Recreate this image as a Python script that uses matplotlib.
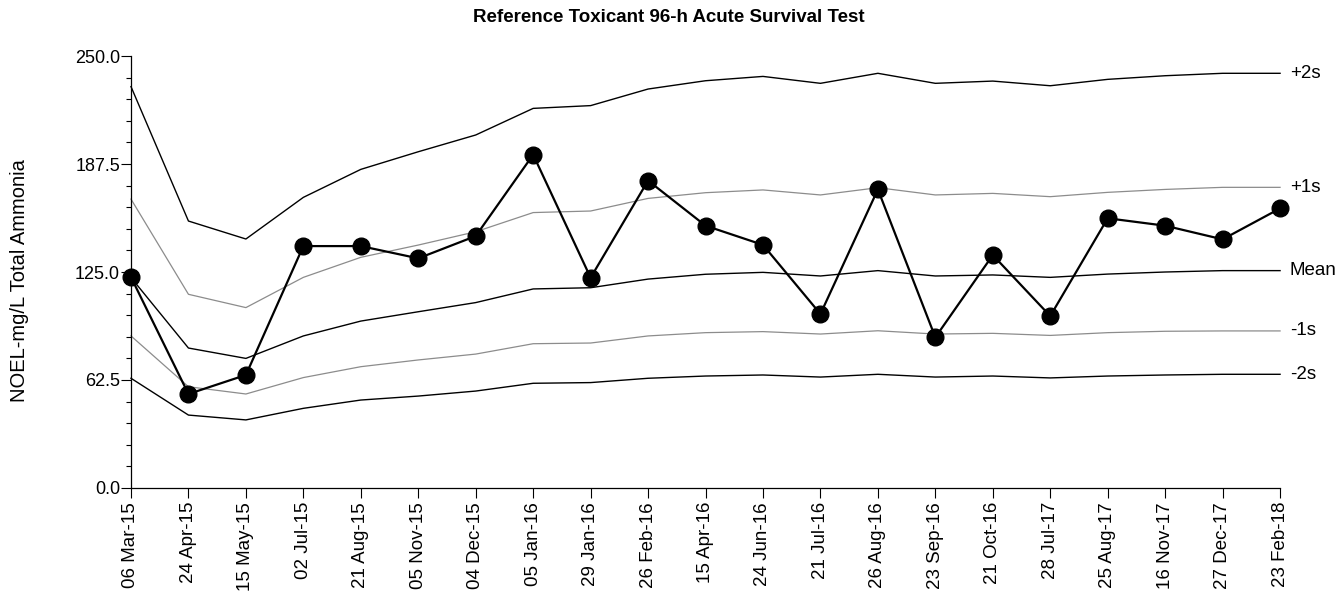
import numpy as np
import matplotlib
matplotlib.use("Agg")
import matplotlib.pyplot as plt
from matplotlib.ticker import MultipleLocator, FormatStrFormatter

plt.rcParams["font.family"] = ["Liberation Sans", "DejaVu Sans"]

dates = ["06 Mar-15", "24 Apr-15", "15 May-15", "02 Jul-15", "21 Aug-15",
         "05 Nov-15", "04 Dec-15", "05 Jan-16", "29 Jan-16", "26 Feb-16",
         "15 Apr-16", "24 Jun-16", "21 Jul-16", "26 Aug-16", "23 Sep-16",
         "21 Oct-16", "28 Jul-17", "25 Aug-17", "16 Nov-17", "27 Dec-17",
         "23 Feb-18"]

noel = [122.0, 54.4, 65.4, 140.0, 140.0, 132.9, 145.8, 192.9, 121.7, 177.9,
        151.8, 140.7, 100.7, 172.8, 87.2, 134.8, 99.5, 156.1, 151.8, 143.9,
        161.8]

plus2s = [232.3, 154.5, 144.1, 168.2, 184.4, 194.6, 204.3, 219.7, 221.3, 230.9,
          235.7, 238.2, 234.2, 240.0, 234.2, 235.5, 232.8, 236.5, 238.6, 240.0,
          240.0]
plus1s = [167.2, 112.1, 104.4, 121.9, 133.5, 140.6, 148.3, 159.4, 160.3, 167.6,
          170.9, 172.5, 169.6, 173.8, 169.6, 170.5, 168.6, 171.1, 172.8, 174.0,
          174.0]
mean = [121.8, 81.0, 75.0, 88.0, 96.6, 102.0, 107.3, 115.2, 115.9, 120.9,
        123.7, 124.8, 122.7, 125.8, 122.7, 123.3, 121.9, 123.8, 125.0, 125.8,
        125.8]
minus1s = [88.0, 58.6, 54.4, 63.9, 70.2, 74.1, 77.5, 83.5, 83.9, 88.0,
           89.9, 90.5, 89.1, 91.0, 89.1, 89.5, 88.3, 89.9, 90.7, 90.9,
           90.9]
minus2s = [63.5, 42.2, 39.4, 46.1, 50.9, 53.2, 56.1, 60.6, 61.0, 63.5,
           64.8, 65.4, 64.2, 65.8, 64.2, 64.8, 63.7, 64.8, 65.4, 65.8,
           65.8]

x = np.arange(len(dates))

fig = plt.figure(figsize=(13.38, 5.91), dpi=100)
ax = fig.add_axes([0.0979, 0.1743, 0.8588, 0.7309])

limits = [(plus2s, "+2s", "black", 1.0),
          (plus1s, "+1s", "#8c8c8c", 0.9),
          (mean, "Mean", "black", 1.0),
          (minus1s, "-1s", "#8c8c8c", 0.9),
          (minus2s, "-2s", "black", 1.0)]
for vals, lab, col, lw in limits:
    ax.plot(x, vals, color=col, lw=lw, clip_on=False)
    ax.annotate(lab, xy=(x[-1], vals[-1]), xytext=(7, 0), textcoords="offset points",
                va="center", ha="left", fontsize=13.5, annotation_clip=False)

ax.plot(x, noel, color="black", lw=1.6, marker="o", markersize=12,
        clip_on=False, zorder=5)

ax.set_xlim(0, len(dates) - 1)
ax.set_ylim(0, 250)
ax.set_xticks(x)
ax.set_xticklabels(dates, rotation=90, fontsize=13.5)
ax.yaxis.set_major_locator(MultipleLocator(62.5))
ax.yaxis.set_minor_locator(MultipleLocator(12.5))
ax.yaxis.set_major_formatter(FormatStrFormatter("%.1f"))
ax.tick_params(axis="y", which="major", length=7, width=0.8, labelsize=13, pad=1)
ax.tick_params(axis="y", which="minor", length=3.5, width=0.8)
ax.tick_params(axis="x", which="major", length=7, width=0.8, pad=3)

for s in ["top", "right"]:
    ax.spines[s].set_visible(False)
for s in ["left", "bottom"]:
    ax.spines[s].set_linewidth(0.9)

ax.set_ylabel("NOEL-mg/L Total Ammonia", fontsize=14.5)
ax.yaxis.set_label_coords(-0.0885, 0.48)
fig.text(0.5, 0.971, "Reference Toxicant 96-h Acute Survival Test",
         ha="center", va="center", fontsize=13.5, fontweight="bold")

fig.savefig("out.png", dpi=100)
